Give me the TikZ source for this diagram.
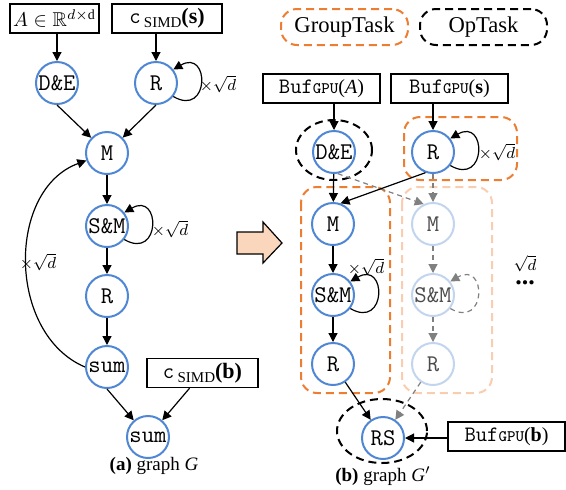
\documentclass[tikz,border=0pt]{standalone}
\usepackage{fontspec}
\setmainfont{Liberation Serif}
\usepackage{amssymb}
\usetikzlibrary{arrows.meta}

\definecolor{opblue}{RGB}{79,135,212}
\definecolor{fadeblue}{RGB}{194,213,238}
\definecolor{grporange}{RGB}{237,125,49}
\definecolor{fadeorange}{RGB}{249,205,175}
\definecolor{peach}{RGB}{249,214,188}

\tikzset{
	op/.style={circle, draw=opblue, fill=white, line width=1pt, minimum size=21pt, inner sep=0pt, font=\fontsize{12}{12}\ttfamily},
	opfade/.style={op, draw=fadeblue, text=black!70},
	buf/.style={draw, line width=0.7pt, minimum height=14.5pt, inner sep=1pt, fill=white},
	grp/.style={draw=grporange, line width=1pt, dash pattern=on 4pt off 2.5pt, rounded corners=8pt},
	grpfade/.style={grp, draw=fadeorange},
	optask/.style={draw, line width=1pt, dash pattern=on 4pt off 2.5pt},
	flow/.style={-{Triangle[length=4.5pt,width=4.5pt]}, line width=0.6pt},
	flowfade/.style={flow, gray, dash pattern=on 2.5pt off 2pt},
	rep/.style={font=\fontsize{8}{8}\selectfont, inner sep=0pt},
}
\newcommand{\bufgpu}[1]{{\fontsize{11}{11}\ttfamily Buf}{\fontsize{8}{8}\ttfamily GPU}{\fontsize{10}{10}\selectfont(#1)}}
\newcommand{\csimd}[1]{{\fontsize{11}{11}\ttfamily c}\,\raisebox{-2pt}{\fontsize{7.5}{7.5}\selectfont SIMD}{\fontsize{11}{11}\selectfont\textbf{(#1)}}}

\begin{document}
\begin{tikzpicture}[x=0.5pt,y=-0.5pt]
		%%%%% START %%%%%
		\useasboundingbox (0,0) rectangle (566,489);
		
		% graph G
		\node[buf, minimum width=44.5pt] (inA) at (54.5,18.5) {\fontsize{10}{10}\selectfont$A\in\mathbb{R}^{d\times\mathrm{d}}$};
		\node[buf, minimum width=55pt] (inS) at (167,18.5) {\csimd{s}};
		\node[op] (de1) at (57,83) {D\&E};
		\node[op] (r1) at (156,83) {R};
		\node[op] (m1) at (107,153) {M};
		\node[op] (sm1) at (107,226) {S\&M};
		\node[op] (rr1) at (107,296) {R};
		\node[op] (sum1) at (107,367) {sum};
		\node[op] (sum2) at (148,437) {sum};
		\node[buf, minimum width=55.5pt] (inB) at (202.5,373) {\csimd{b}};
		
		\draw[flow] (inA.south -| de1) -- (de1);
		\draw[flow] (inS.south -| r1) -- (r1);
		\draw[flow] (de1.south) -- (m1);
		\draw[flow] (r1.south) -- (m1);
		\draw[flow] (m1) -- (sm1);
		\draw[flow] (sm1) -- (rr1);
		\draw[flow] (rr1) -- (sum1);
		\draw[flow] (sum1.south) -- (sum2);
		\draw[flow] (inB) -- (sum2);
		\draw[flow] (r1.-38) to[out=-30,in=30,looseness=4] (r1.38);
		\draw[flow] (sm1.-38) to[out=-30,in=30,looseness=4] (sm1.38);
		\draw[flow] (sum1.west) to[out=157,in=200,looseness=1.05] (m1.200);
		
		\node[rep] (x1) at (218,84) {$\times\sqrt{d}$};
		\node[rep] (x2) at (170,229) {$\times\sqrt{d}$};
		\node[rep] (x3) at (38,262) {$\times\sqrt{d}$};
		\node[font=\fontsize{9.5}{10}\selectfont] (capA) at (154,466) {\textbf{(a)} graph \textit{G}};
		
		% arrow between the graphs
		\draw[fill=peach, line width=0.6pt] (237,232) -- (263,232) -- (263,222) -- (282,243) -- (263,263) -- (263,254) -- (237,254) -- cycle;
		
		% legend
		\node[grp, minimum width=63.5pt, minimum height=18pt, font=\fontsize{11.3}{12}\selectfont] (legG) at (344.5,27) {GroupTask};
		\node[optask, rounded corners=8pt, minimum width=63.5pt, minimum height=18pt, font=\fontsize{11.3}{12}\selectfont] (legO) at (483.5,27) {OpTask};
		
		% graph G'
		\draw[grp] (404,117) rectangle (517,180);
		\draw[grp] (301,187) rectangle (390,393);
		\draw[grpfade] (402,187) rectangle (492,393);
		\draw[optask] (334,150) ellipse [x radius=19pt, y radius=15pt];
		\draw[optask] (382,431) ellipse [x radius=22.5pt, y radius=16pt];
		
		\node[buf, minimum width=58.5pt] (bufA) at (321.5,88.5) {\bufgpu{\textit{A}}};
		\node[buf, minimum width=58.5pt] (bufS) at (449.5,88.5) {\bufgpu{\textbf{s}}};
		\node[buf, minimum width=58.5pt] (bufB) at (506.5,436.5) {\bufgpu{\textbf{b}}};
		\node[op] (de2) at (334,152) {D\&E};
		\node[op] (r2) at (433,152) {R};
		\node[op] (m2) at (333,224) {M};
		\node[op] (sm2) at (333,295) {S\&M};
		\node[op] (rr2) at (333,364) {R};
		\node[opfade] (m3) at (433,224) {M};
		\node[opfade] (sm3) at (433,295) {S\&M};
		\node[opfade] (rr3) at (433,364) {R};
		\node[op] (rs) at (383,438) {RS};
		
		\draw[flowfade] (de2.-80) -- (m3.115);
		\draw[flowfade] (r2) -- (m3);
		\draw[flowfade] (m3) -- (sm3);
		\draw[flowfade] (sm3) -- (rr3);
		\draw[flowfade] (rr3) -- (rs);
		\draw[flowfade] (sm3.-38) to[out=-30,in=30,looseness=4] (sm3.38);
		
		\draw[flow] (bufA.south -| de2) -- (de2);
		\draw[flow] (bufS.south -| r2) -- (r2);
		\draw[flow] (de2) -- (m2);
		\draw[flow] (r2.250) -- (m2.70);
		\draw[flow] (m2) -- (sm2);
		\draw[flow] (sm2) -- (rr2);
		\draw[flow] (rr2) -- (rs);
		\draw[flow] (bufB.west |- rs) -- (rs);
		\draw[flow] (r2.-38) to[out=-30,in=30,looseness=4] (r2.38);
		\draw[flow] (sm2.-38) to[out=-30,in=30,looseness=4] (sm2.38);
		
		\node[rep] (x4) at (497,152) {$\times\sqrt{d}$};
		\node[rep] (x5) at (366,267) {$\times\sqrt{d}$};
		\node[rep, align=center] (nd) at (525,270) {$\sqrt{d}$\\[-1pt]{\fontsize{13}{13}\selectfont\textbf{...}}};
		\node[font=\fontsize{9.5}{10}\selectfont] (capB) at (383,476) {\textbf{(b)} graph \textit{G}$^{\prime}$};
		%%%%% END %%%%%
	\end{tikzpicture}
\end{document}
